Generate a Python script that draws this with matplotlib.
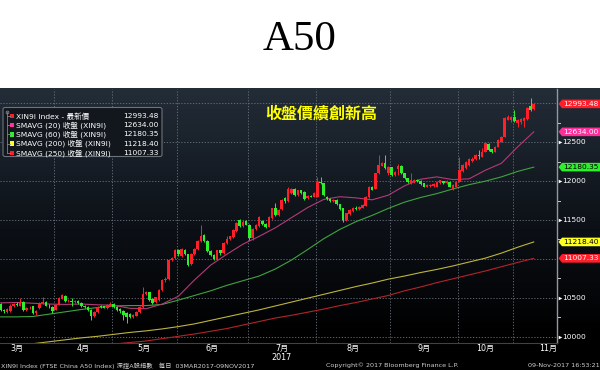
import numpy as np
import pandas as pd
import matplotlib
matplotlib.use("Agg")
import matplotlib.pyplot as plt
from matplotlib.patches import FancyBboxPatch, Polygon, Rectangle
from matplotlib.colors import LinearSegmentedColormap

plt.rcParams["font.family"] = ["DejaVu Sans", "Noto Sans CJK TC"]

# ---- daily candles, 03MAR2017 - 09NOV2017 ----
opens = [10420, 10395, 10430, 10415, 10425, 10345, 10320, 10330, 10400, 10415,
         10400, 10445, 10345, 10365, 10390, 10300, 10370, 10430, 10445, 10400, 10380,
         10345, 10410, 10490, 10525, 10455, 10460, 10445, 10465, 10435, 10400,
         10385, 10345, 10265, 10320, 10400, 10390, 10375, 10400,
         10420, 10385, 10360, 10335, 10310, 10290, 10250, 10270, 10315, 10380,
         10545, 10575, 10490, 10440, 10470, 10600, 10730, 10740, 10990, 11010,
         11120, 11040, 11120, 11060, 10930, 11060, 11130, 11230, 11310, 11230,
         11100, 11050, 10990, 11110, 11070, 11200, 11250, 11280, 11360, 11500,
         11420, 11490,
         11440, 11265, 11380, 11420, 11490, 11450, 11415, 11520, 11660, 11560,
         11640, 11780, 11740, 11850, 11905, 11820, 11885, 11865, 11780, 11810, 11800,
         11800, 11990, 11975, 11800, 11770, 11740, 11760, 11700, 11650, 11500,
         11580, 11620, 11660, 11640, 11660, 11680, 11790, 11930, 11900, 12100,
         12200, 12230, 12100,
         12180, 12080, 12150, 12200, 12100, 12035, 11975, 11990, 12020, 12005,
         11970, 11930, 11935, 11940, 11930, 11970, 12000, 11975, 11990, 11905, 11930,
         11990, 12130, 12170, 12210, 12255, 12280, 12330, 12315, 12379, 12480,
         12410, 12379, 12444, 12508, 12572, 12790, 12790,
         12830, 12745, 12760, 12770, 12800, 12960, 12930]
closes = [10395, 10430, 10415, 10440, 10345, 10330, 10360, 10400, 10415, 10405,
          10445, 10345, 10365, 10375, 10300, 10330, 10430, 10445, 10400, 10390, 10335,
          10410, 10500, 10540, 10460, 10465, 10445, 10465, 10430, 10395, 10380,
          10340, 10270, 10320, 10385, 10385, 10375, 10410, 10425,
          10385, 10340, 10325, 10285, 10255, 10255, 10280, 10320, 10380, 10550,
          10575, 10470, 10430, 10505, 10600, 10730, 10745, 10990, 11010, 11110,
          11060, 11130, 11060, 10920, 11060, 11130, 11230, 11300, 11230, 11100,
          11050, 10995, 11110, 11070, 11200, 11260, 11290, 11370, 11460, 11420,
          11480, 11440,
          11270, 11390, 11430, 11540, 11450, 11410, 11540, 11650, 11560, 11630,
          11760, 11740, 11900, 11905, 11820, 11880, 11845, 11770, 11810, 11800, 11845,
          11990, 11980, 11820, 11770, 11745, 11760, 11700, 11640, 11500, 11585,
          11630, 11660, 11640, 11670, 11690, 11800, 11930, 11890, 12100, 12208,
          12230, 12166, 12180,
          12080, 12120, 12190, 12100, 12040, 11990, 12010, 12020, 12000, 11960,
          11930, 11950, 11955, 11960, 11990, 12010, 11975, 12000, 11930, 11950, 11990,
          12145, 12205, 12250, 12290, 12290, 12337, 12320, 12379, 12487, 12400,
          12375, 12444, 12530, 12572, 12809, 12830, 12820,
          12770, 12790, 12800, 12810, 12940, 12915, 12993.48]
highs = [10440, 10445, 10450, 10460, 10435, 10360, 10375, 10415, 10430, 10440,
         10500, 10455, 10380, 10395, 10400, 10345, 10440, 10510, 10455, 10415, 10390,
         10420, 10510, 10555, 10530, 10485, 10500, 10475, 10470, 10440, 10410,
         10390, 10350, 10330, 10395, 10410, 10400, 10420, 10440,
         10430, 10395, 10365, 10340, 10315, 10300, 10290, 10330, 10390, 10640,
         10590, 10580, 10495, 10515, 10610, 10740, 10770, 11000, 11030, 11125,
         11130, 11140, 11125, 11065, 11070, 11140, 11240, 11430, 11320, 11240,
         11110, 11060, 11120, 11120, 11215, 11290, 11300, 11380, 11470, 11510,
         11495, 11500,
         11450, 11400, 11445, 11550, 11500, 11460, 11550, 11660, 11720, 11640,
         11770, 11790, 11930, 11915, 11910, 11890, 11890, 11870, 11820, 11825, 11855,
         12050, 12050, 11980, 11810, 11780, 11775, 11770, 11705, 11655, 11595,
         11640, 11670, 11675, 11680, 11700, 11810, 11940, 11935, 12110, 12337,
         12250, 12330, 12190,
         12185, 12130, 12220, 12210, 12105, 12040, 12100, 12030, 12030, 12010,
         11975, 11960, 11965, 11970, 12000, 12020, 12005, 12010, 11995, 11960, 12000,
         12315, 12215, 12260, 12300, 12305, 12350, 12400, 12420, 12495, 12485,
         12415, 12455, 12540, 12585, 12820, 12845, 12835,
         12915, 12800, 12810, 12820, 12950, 13066, 13010]
lows = [10380, 10385, 10400, 10405, 10330, 10310, 10305, 10320, 10385, 10390,
        10390, 10330, 10335, 10350, 10290, 10285, 10360, 10420, 10390, 10375, 10310,
        10340, 10405, 10480, 10450, 10440, 10400, 10430, 10420, 10380, 10370,
        10325, 10210, 10255, 10310, 10370, 10365, 10360, 10395,
        10375, 10330, 10300, 10220, 10180, 10240, 10235, 10260, 10305, 10375,
        10530, 10460, 10420, 10430, 10460, 10590, 10700, 10730, 10975, 11000,
        11040, 11030, 11050, 10905, 10925, 11050, 11120, 11220, 11220, 11090,
        11035, 10980, 10980, 11055, 11060, 11190, 11240, 11270, 11350, 11405,
        11410, 11430,
        11240, 11240, 11370, 11410, 11440, 11395, 11405, 11510, 11550, 11550,
        11630, 11720, 11730, 11840, 11810, 11810, 11830, 11760, 11770, 11790, 11795,
        11795, 11960, 11810, 11755, 11730, 11730, 11690, 11625, 11470, 11490,
        11570, 11605, 11630, 11630, 11650, 11675, 11780, 11880, 11895, 12090,
        12190, 12150, 12080,
        12070, 12070, 12080, 12090, 12030, 11980, 11965, 11980, 11990, 11950,
        11920, 11920, 11925, 11930, 11925, 11960, 11965, 11965, 11920, 11880, 11920,
        11985, 12120, 12160, 12200, 12245, 12270, 12280, 12305, 12370, 12390,
        12365, 12370, 12435, 12500, 12565, 12780, 12760,
        12760, 12700, 12740, 12700, 12790, 12905, 12920]

# ---- moving averages, sampled every 5th trading day ----
ma_dates = ["2017-03-09", "2017-03-16", "2017-03-23", "2017-03-30", "2017-04-10",
            "2017-04-17", "2017-04-24", "2017-05-02", "2017-05-09", "2017-05-16",
            "2017-05-23", "2017-06-01", "2017-06-08", "2017-06-15", "2017-06-22",
            "2017-06-29", "2017-07-06", "2017-07-13", "2017-07-20", "2017-07-27",
            "2017-08-03", "2017-08-10", "2017-08-17", "2017-08-24", "2017-08-31",
            "2017-09-07", "2017-09-14", "2017-09-21", "2017-09-28", "2017-10-12",
            "2017-10-19", "2017-10-26", "2017-11-02", "2017-11-09"]
ma20 = [10435, 10440, 10430, 10420, 10415, 10420, 10410, 10405, 10365, 10360,
        10420, 10520, 10730, 10920, 11060, 11190, 11290, 11400, 11530, 11660,
        11765, 11800, 11785, 11760, 11820, 11940, 12025, 12055, 12020, 12030,
        12140, 12230, 12440, 12634.00]
ma60 = [10255, 10255, 10260, 10290, 10320, 10350, 10375, 10395, 10400, 10400,
        10415, 10470, 10530, 10590, 10660, 10720, 10780, 10870, 10985, 11120,
        11260, 11380, 11480, 11560, 11650, 11730, 11790, 11840, 11900, 11955,
        12000, 12055, 12125, 12180.35]
ma200 = [9870, 9890, 9910, 9935, 9960, 9985, 10005, 10030, 10055, 10075,
         10100, 10130, 10165, 10210, 10255, 10300, 10345, 10395, 10445, 10495,
         10545, 10595, 10645, 10690, 10740, 10780, 10825, 10865, 10910, 10960,
         11010, 11075, 11150, 11218.40]
ma250 = [9800, 9810, 9820, 9835, 9850, 9870, 9885, 9905, 9925, 9945,
         9975, 10005, 10035, 10070, 10105, 10150, 10195, 10240, 10275, 10315,
         10355, 10400, 10440, 10485, 10530, 10590, 10640, 10695, 10745, 10795,
         10845, 10900, 10955, 11007.33]

legend_names = ["XIN9I Index - 最新價", "SMAVG (20) 收盤 (XIN9I)", "SMAVG (60) 收盤 (XIN9I)",
                "SMAVG (200) 收盤 (XIN9I)", "SMAVG (250) 收盤 (XIN9I)"]
last_values = [closes[-1], ma20[-1], ma60[-1], ma200[-1], ma250[-1]]
month_names = ["3月", "4月", "5月", "6月", "7月", "8月", "9月", "10月", "11月"]
holidays = ["2017-04-03", "2017-04-04", "2017-05-01", "2017-05-29", "2017-05-30",
            "2017-10-02", "2017-10-03", "2017-10-04", "2017-10-05", "2017-10-06"]

# trading-day calendar -> x positions
cal = pd.bdate_range("2017-03-01", "2017-11-30")
cal = cal[~cal.isin(pd.to_datetime(holidays))]
pos = {d: i for i, d in enumerate(cal)}
days = cal[(cal >= "2017-03-03") & (cal <= "2017-11-09")]
xs = np.array([pos[d] for d in days])
ma_x = np.array([pos[pd.Timestamp(d)] for d in ma_dates])

RED, GREEN = "#ff1f2a", "#2cf02c"
W, H = 600, 370
fig = plt.figure(figsize=(6, 3.7), dpi=100)
fig.patch.set_facecolor("white")

# dark panel with gradient
bg = fig.add_axes([0, 0, 1, (H - 88) / H])
cmap = LinearSegmentedColormap.from_list(
    "bb", [(0, "#000000"), (0.12, "#000000"), (0.5, "#0c1016"), (1, "#232d38")])
bg.imshow(np.linspace(0, 1, 256).reshape(-1, 1), aspect="auto", cmap=cmap,
          origin="lower", extent=[0, 1, 0, 1])
bg.axis("off")

ax = fig.add_axes([0, (H - 343) / H, 557 / W, (343 - 89) / H])
ax.set_facecolor("none")
ax.set_xlim(5.8, 178.2)
ax.set_ylim(9919, 13185)

# grid
month_start = [cal[cal.month == m][0] for m in range(3, 12)]
month_end = [cal[cal.month == m][-1] for m in range(3, 12)]
for d in month_start[1:]:
    ax.axvline(pos[d] - 0.5, color="#6b7480", lw=0.6, ls=(0, (1.5, 2)), zorder=1)
for v in range(10000, 13001, 500):
    ax.axhline(v, color="#6b7480", lw=0.6, ls=(0, (1.5, 2)), zorder=1)

# moving averages
ax.plot(ma_x, ma250, color="#b3242a", lw=0.8, zorder=2)
ax.plot(ma_x, ma200, color="#bdb43e", lw=0.8, zorder=2)
ax.plot(ma_x, ma60, color="#3fa33f", lw=0.8, zorder=2)
ax.plot(ma_x, ma20, color="#b43a78", lw=0.8, zorder=2)

# candles
o, c = np.array(opens), np.array(closes)
hi, lo = np.array(highs), np.array(lows)
up = c >= o
for colr, m in ((RED, up), (GREEN, ~up)):
    ax.vlines(xs[m], lo[m], hi[m], color=colr, lw=0.7, zorder=3)
    ax.bar(xs[m], np.maximum(np.abs(c - o)[m], 8), bottom=np.minimum(o, c)[m],
           width=0.8, color=colr, lw=0, zorder=4)

for s in ("top", "left"):
    ax.spines[s].set_visible(False)
ax.spines["right"].set_color("#9098a0")
ax.spines["right"].set_linewidth(1.0)
ax.spines["bottom"].set_color("#3c434a")
ax.spines["bottom"].set_linewidth(0.8)
ax.set_xticks([])
ax.set_yticks([])

# month labels
for name, d0, d1 in zip(month_names, month_start, month_end):
    ax.text((pos[d0] + pos[d1]) / 2, -0.022, name, transform=ax.get_xaxis_transform(),
            ha="center", va="center", color="white", fontsize=5.8)
ax.text((pos[month_start[4]] + pos[month_end[4]]) / 2, -0.058, "2017",
        transform=ax.get_xaxis_transform(), ha="center", va="center",
        color="white", fontsize=5.8)

# overlay in pixel coordinates
ov = fig.add_axes([0, 0, 1, 1])
ov.set_xlim(0, W)
ov.set_ylim(H, 0)
ov.axis("off")
ov.set_facecolor("none")


def ypix(v):
    return H - ax.transData.transform((0, v))[1]


for v in [10000, 10500, 11500, 12000, 12500]:
    ov.plot(560, ypix(v), marker=">", ms=2.6, color="white", mec="none")
    ov.text(562.5, ypix(v), f"{v}", color="white", fontsize=5.4, ha="left", va="center")
for v in np.arange(10250, 13000, 500):
    ov.plot([557.5, 559.5], [ypix(v)] * 2, color="#c8c8c8", lw=0.7)

# value tags on the right
tag_style = [("#ff1f2a", "white"), ("#ff2f9a", "white"), ("#2cf02c", "black"),
             ("#ffff20", "black"), ("#ff1f2a", "white")]
for val, (fc, tc) in zip(last_values, tag_style):
    yc = ypix(val)
    hh = 4.3
    ov.add_patch(Polygon([(558.5, yc), (562, yc - hh), (600, yc - hh), (600, yc + hh),
                          (562, yc + hh)], closed=True, fc=fc, ec="none"))
    ov.text(581, yc, f"{val:.2f}", color=tc, fontsize=5.4, ha="center", va="center")

# legend box
ov.add_patch(FancyBboxPatch((3, 107.5), 159, 49, boxstyle="round,pad=0,rounding_size=2",
                            fc="#12171d", ec="#6c737b", lw=0.8))
ov.plot([6.5, 6.5], [112, 153], color="#80868d", lw=0.6)
ov.plot(6.5, 112, marker="o", ms=2, mfc="none", mec="#80868d", mew=0.6)
sq_colors = ["#ff1f2a", "#ff3399", "#2cf02c", "#ffff20", "#ff1f2a"]
for i, (name, val, sc) in enumerate(zip(legend_names, last_values, sq_colors)):
    yy = 116 + i * 9.2
    ov.plot([6.5, 9.5], [yy, yy], color="#80868d", lw=0.6)
    ov.add_patch(Rectangle((9.7, yy - 2.2), 4.4, 4.4, fc=sc, ec="none"))
    ov.text(16.5, yy, name, color="white", fontsize=5.4, ha="left", va="center")
    ov.text(159, yy, f"{val:.2f}", color="white", fontsize=5.4, ha="right", va="center")

# annotation
ov.text(321, 114, "收盤價續創新高", color="#ffff00", fontsize=11.5, fontweight="bold",
        ha="center", va="center", family=["Noto Sans CJK TC", "DejaVu Sans"])

# title
ov.text(300, 40, "A50", color="black", fontsize=31, ha="center", va="center",
        family=["Liberation Serif", "DejaVu Serif"])

# footer
ft = dict(color="#d0d0d0", fontsize=4.6, va="center")
ov.text(1, 365.5, "XIN9I Index (FTSE China A50 Index) 深證A股指數   每日  03MAR2017-09NOV2017",
        ha="left", **ft)
ov.text(326, 365.5, "Copyright© 2017 Bloomberg Finance L.P.", ha="left", **ft)
ov.text(599.5, 365.5, "09-Nov-2017 16:53:21", ha="right", **ft)

fig.savefig("out.png", dpi=100, facecolor=fig.get_facecolor())
